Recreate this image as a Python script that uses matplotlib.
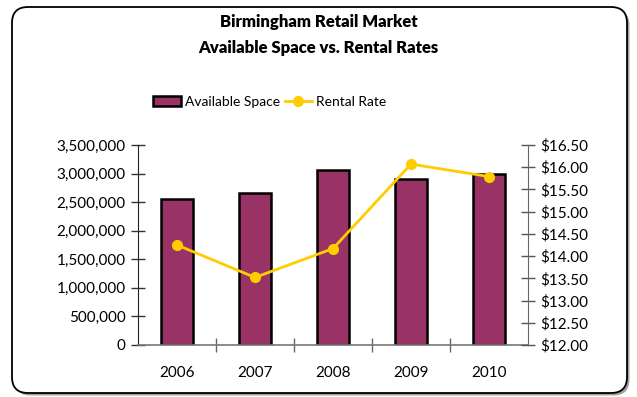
import matplotlib
matplotlib.use("Agg")
import matplotlib.pyplot as plt
from matplotlib.patches import FancyBboxPatch, Patch
from matplotlib.lines import Line2D
from matplotlib.ticker import FuncFormatter, FixedLocator
import numpy as np

years = ["2006", "2007", "2008", "2009", "2010"]
available_space = [2550000, 2655000, 3060000, 2910000, 3000000]
rental_rate = [14.25, 13.52, 14.17, 16.07, 15.79]

left_ticks = [0, 500000, 1000000, 1500000, 2000000, 2500000, 3000000, 3500000]
right_ticks = [12.0, 12.5, 13.0, 13.5, 14.0, 14.5, 15.0, 15.5, 16.0, 16.5]

BAR_COLOR = "#993366"
LINE_COLOR = "#FFCC00"
FONT = "Lato"

plt.rcParams["font.family"] = [FONT, "DejaVu Sans"]

fig = plt.figure(figsize=(6.37, 3.97), dpi=100)

# rounded frame with a soft drop shadow (pixel coordinates)
shadow = FancyBboxPatch((14.5, 1.5), 615, 386, boxstyle="round,pad=0,rounding_size=16",
                        transform=None, facecolor="#555555", edgecolor="none",
                        alpha=0.55, zorder=0)
frame = FancyBboxPatch((12, 4), 615, 386, boxstyle="round,pad=0,rounding_size=16",
                       transform=None, facecolor="white", edgecolor="black",
                       linewidth=1.3, zorder=1)
fig.patches.extend([shadow, frame])

ax = fig.add_axes([138 / 637, 1 - 345 / 397, 390 / 637, 200 / 397])
ax.set_zorder(2)
ax.patch.set_visible(False)

x = np.arange(len(years))
ax.bar(x, available_space, width=0.42, color=BAR_COLOR, edgecolor="black",
       linewidth=1.8, zorder=2)
ax.set_xlim(-0.5, len(years) - 0.5)
ax.set_ylim(0, 3500000)
ax.set_yticks(left_ticks)
ax.yaxis.set_major_formatter(FuncFormatter(lambda v, p: f"{int(v):,}"))

# category ticks sit on the boundaries, labels at the bar centres
ax.xaxis.set_major_locator(FixedLocator(np.arange(0.5, len(years) - 1, 1.0)))
ax.xaxis.set_major_formatter(FuncFormatter(lambda v, p: ""))
ax.xaxis.set_minor_locator(FixedLocator(x))
ax.set_xticklabels(years, minor=True)
ax.tick_params(axis="x", which="major", direction="inout", length=10,
               color="#666666", width=1)
ax.tick_params(axis="x", which="minor", length=0, pad=15, labelsize=11)
ax.tick_params(axis="y", direction="inout", length=10, color="#333333",
               width=1, labelsize=11, pad=4)

for s in ["top", "right"]:
    ax.spines[s].set_visible(False)
ax.spines["left"].set_color("#222222")
ax.spines["bottom"].set_color("#777777")
ax.spines["bottom"].set_linewidth(1.2)

ax2 = ax.twinx()
ax2.plot(x, rental_rate, color=LINE_COLOR, linewidth=2, marker="o",
         markersize=7, zorder=3)
ax2.set_ylim(12.0, 16.5)
ax2.set_yticks(right_ticks)
ax2.yaxis.set_major_formatter(FuncFormatter(lambda v, p: f"${v:.2f}"))
ax2.tick_params(axis="y", direction="inout", length=10, color="#555555",
                width=1, labelsize=11, pad=4)
for s in ["top", "left", "bottom"]:
    ax2.spines[s].set_visible(False)
ax2.spines["right"].set_color("#666666")

fig.text(0.5, 1 - 22 / 397, "Birmingham Retail Market", ha="center", va="center",
         fontsize=12, fontweight="heavy")
fig.text(0.5, 1 - 48 / 397, "Available Space vs. Rental Rates", ha="center",
         va="center", fontsize=12, fontweight="heavy")

handles = [
    Patch(facecolor=BAR_COLOR, edgecolor="black", linewidth=1.8, label="Available Space"),
    Line2D([0], [0], color=LINE_COLOR, linewidth=2, marker="o", markersize=7,
           label="Rental Rate"),
]
fig.legend(handles=handles, loc="center", bbox_to_anchor=(270 / 637, 1 - 102 / 397),
           ncol=2, frameon=False, fontsize=10, handlelength=2.0, handletextpad=0.3,
           columnspacing=0.3)

fig.savefig("out.png", dpi=100)
